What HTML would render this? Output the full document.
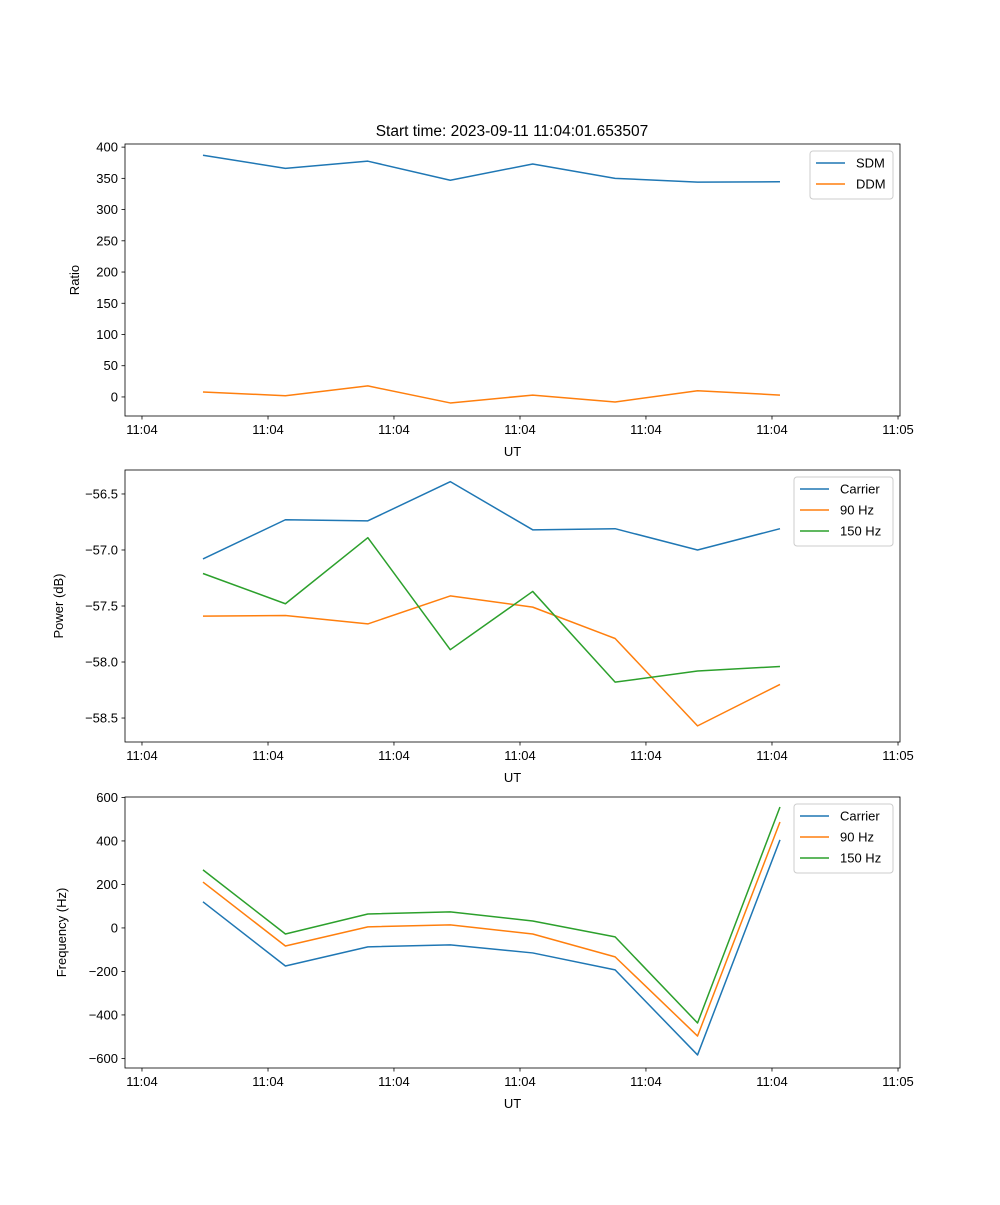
<!DOCTYPE html>
<html><head><meta charset="utf-8">
<style>
html,body{margin:0;padding:0;background:#fff;}
svg text{font-family:"Liberation Sans","DejaVu Sans",sans-serif;fill:#000;}
</style></head>
<body>
<svg id="fig" width="1000" height="1200" xmlns="http://www.w3.org/2000/svg"></svg>
<script>
const xIdx = [0,1,2,3,4,5,6,7];
const xTickPos = [-0.740,0.789,2.317,3.846,5.374,6.903,8.432];
const xTickLabels = ["11:04","11:04","11:04","11:04","11:04","11:04","11:05"];
const sdm = [387,366,377.5,347,373,350,344,344.5];
const ddm = [8,2,17.7,-9.6,3,-8,10,3];
const pCarrier = [-57.08,-56.73,-56.74,-56.39,-56.82,-56.81,-57.0,-56.81];
const p90 = [-57.59,-57.585,-57.66,-57.41,-57.51,-57.79,-58.57,-58.2];
const p150 = [-57.21,-57.48,-56.89,-57.89,-57.37,-58.18,-58.08,-58.04];
const fCarrier = [120,-175,-87,-78,-115,-193,-584,405];
const f90 = [211,-83,5,14,-28,-133,-497,487];
const f150 = [267,-28,64,74,32,-41,-437,556];
const ratioTicks = [0,50,100,150,200,250,300,350,400];
const powerTicks = [-58.5,-58.0,-57.5,-57.0,-56.5];
const powerTickLabels = ["\u221258.5","\u221258.0","\u221257.5","\u221257.0","\u221256.5"];
const freqTicks = [-600,-400,-200,0,200,400,600];
const freqTickLabels = ["\u2212600","\u2212400","\u2212200","0","200","400","600"];

const C1="#1f77b4",C2="#ff7f0e",C3="#2ca02c";
const svg=document.getElementById('fig');
const NS="http://www.w3.org/2000/svg";
function mk(tag,attrs,parent){const e=document.createElementNS(NS,tag);for(const k in attrs)e.setAttribute(k,attrs[k]);(parent||svg).appendChild(e);return e;}
const L=125,R=900;
const xMin=-0.946,xMax=8.456;
function X(v){return L+(v-xMin)/(xMax-xMin)*(R-L);}

function panel(name,top,bot,yMin,yMax,yTicks,yLabels,yTitle,yTitleX,series,leg){
  const g=mk('g',{});
  
  
  const Y=v=>bot-(v-yMin)/(yMax-yMin)*(bot-top);
  series.forEach(s=>{
    const d=s.vals.map((v,i)=>(i?'L':'M')+X(xIdx[i]).toFixed(2)+','+Y(v).toFixed(2)).join(' ');
    const p=mk('path',{d:d,fill:'none',stroke:s.color,'stroke-width':1.5,'stroke-linejoin':'round'},g);
    
    
  });
  const fr=mk('rect',{x:L,y:top,width:R-L,height:bot-top,fill:'none',stroke:'#000','stroke-width':0.8},g);
  
  
  xTickPos.forEach((t,i)=>{
    const x=X(t);
    mk('line',{x1:x,y1:bot,x2:x,y2:bot+3.5,stroke:'#000','stroke-width':0.8},g);
    const tx=mk('text',{x:x,y:bot+18,'font-size':13,'text-anchor':'middle'},g);
    tx.textContent=xTickLabels[i];
    
    
  });
  const xt=mk('text',{x:(L+R)/2,y:bot+40,'font-size':13,'text-anchor':'middle'},g);
  xt.textContent='UT';
  
  
  yTicks.forEach((t,i)=>{
    const y=Y(t);
    mk('line',{x1:L-3.5,y1:y,x2:L,y2:y,stroke:'#000','stroke-width':0.8},g);
    const tx=mk('text',{x:L-7,y:y+4.5,'font-size':13,'text-anchor':'end'},g);
    tx.textContent=yLabels[i];
    
    
  });
  const yt=mk('text',{x:yTitleX,y:(top+bot)/2,'font-size':13,'text-anchor':'middle',transform:`rotate(-90 ${yTitleX} ${(top+bot)/2})`},g);
  yt.textContent=yTitle;
  
  
  const lg=mk('g',{},g);
  
  
  mk('rect',{x:leg.x,y:top+7,width:R-7-leg.x,height:series.length*21+6,rx:3,fill:'#fff','fill-opacity':0.8,stroke:'#ccc','stroke-width':1},lg);
  series.forEach((s,i)=>{
    const y=top+19+i*21;
    mk('line',{x1:leg.x+6,y1:y,x2:leg.x+35,y2:y,stroke:s.color,'stroke-width':1.5},lg);
    const t=mk('text',{x:leg.x+46,y:y+4.5,'font-size':13},lg);
    t.textContent=s.label;
    
    
  });
}

const title=mk('text',{x:512,y:136,'font-size':15.5,'text-anchor':'middle'});
title.textContent='Start time: 2023-09-11 11:04:01.653507';



panel('ratio-panel',144,416,-30.5,405,ratioTicks,ratioTicks.map(String),'Ratio',79,
  [{id:'sdm-line',label:'SDM',color:C1,vals:sdm},{id:'ddm-line',label:'DDM',color:C2,vals:ddm}],{x:810});
panel('power-panel',470,742,-58.714,-56.286,powerTicks,powerTickLabels,'Power (dB)',63,
  [{id:'power-carrier-line',label:'Carrier',color:C1,vals:pCarrier},{id:'power-90hz-line',label:'90 Hz',color:C2,vals:p90},{id:'power-150hz-line',label:'150 Hz',color:C3,vals:p150}],{x:794});
panel('frequency-panel',797,1068,-644,602,freqTicks,freqTickLabels,'Frequency (Hz)',66,
  [{id:'freq-carrier-line',label:'Carrier',color:C1,vals:fCarrier},{id:'freq-90hz-line',label:'90 Hz',color:C2,vals:f90},{id:'freq-150hz-line',label:'150 Hz',color:C3,vals:f150}],{x:794});
</script>
</body></html>
